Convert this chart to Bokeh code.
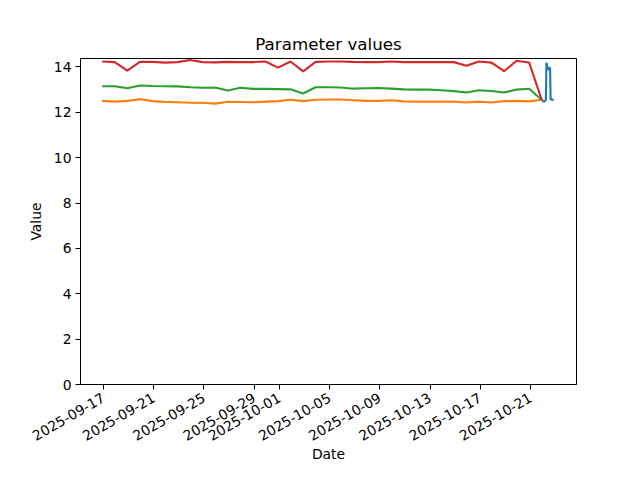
import math
import pandas as pd
from bokeh.plotting import figure
from bokeh.models import Range1d, FixedTicker, DatetimeTickFormatter
from bokeh.embed import file_html
from bokeh.resources import INLINE

# ---- data ----
daily_dates = pd.date_range("2025-09-16 21:30", periods=36, freq="D")
hourly_dates = pd.date_range("2025-10-21 21:30", periods=24, freq="h")

red_values = [14.24, 14.21, 13.84, 14.22, 14.22, 14.19, 14.21, 14.30, 14.21, 14.20,
              14.22, 14.21, 14.21, 14.24, 13.97, 14.24, 13.80, 14.22, 14.24, 14.24,
              14.22, 14.21, 14.21, 14.24, 14.21, 14.21, 14.21, 14.21, 14.21, 14.05,
              14.24, 14.19, 13.81, 14.27, 14.19, 12.55]
green_values = [13.15, 13.15, 13.06, 13.18, 13.16, 13.15, 13.14, 13.10, 13.08, 13.09,
                12.96, 13.08, 13.03, 13.03, 13.02, 13.01, 12.83, 13.10, 13.10, 13.09,
                13.04, 13.06, 13.07, 13.04, 13.01, 13.00, 13.00, 12.97, 12.93, 12.87,
                12.97, 12.94, 12.87, 13.00, 13.04, 12.55]
orange_values = [12.50, 12.47, 12.50, 12.58, 12.49, 12.46, 12.44, 12.42, 12.42, 12.38,
                 12.46, 12.45, 12.44, 12.47, 12.49, 12.55, 12.49, 12.55, 12.56, 12.56,
                 12.53, 12.50, 12.50, 12.53, 12.48, 12.47, 12.47, 12.47, 12.47, 12.43,
                 12.47, 12.43, 12.49, 12.50, 12.48, 12.55]
blue_values = [12.55, 12.53, 12.51, 12.49, 12.47, 12.48, 12.50, 12.52, 12.56, 14.18,
               14.12, 13.90, 13.86, 13.92, 13.95, 13.96, 13.94, 12.57, 12.56, 12.55,
               12.56, 12.55, 12.55, 12.56]

x_tick_labels = ["2025-09-17", "2025-09-21", "2025-09-25", "2025-09-29", "2025-10-01",
                 "2025-10-05", "2025-10-09", "2025-10-13", "2025-10-17", "2025-10-21"]
y_ticks = [0, 2, 4, 6, 8, 10, 12, 14]

title_text = "Parameter values"
x_label = "Date"
y_label = "Value"

# ---- figure ----
FONT = "DejaVu Sans"
p = figure(width=624, height=464, x_axis_type="datetime",
           x_range=Range1d(pd.Timestamp("2025-09-15 04:00"), pd.Timestamp("2025-10-24 16:00")),
           y_range=Range1d(0, 14.37),
           output_backend="svg", toolbar_location=None, title=title_text,
           min_border_left=80, min_border_right=48, min_border_top=58, min_border_bottom=80)

p.background_fill_color = "white"
p.border_fill_color = "white"
p.outline_line_color = "black"
p.outline_line_width = 1
p.xgrid.visible = False
p.ygrid.visible = False

p.title.align = "center"
p.title.text_font = FONT
p.title.text_font_size = "16.7px"
p.title.text_font_style = "normal"
p.title.text_color = "black"
p.title.standoff = 9

tick_ms = [pd.Timestamp(t).value // 10**6 for t in x_tick_labels]
p.xaxis.ticker = FixedTicker(ticks=tick_ms)
fmt = "%Y-%m-%d"
p.xaxis.formatter = DatetimeTickFormatter(microseconds=fmt, milliseconds=fmt, seconds=fmt,
                                          minsec=fmt, minutes=fmt, hourmin=fmt, hours=fmt,
                                          days=fmt, months=fmt, years=fmt)
p.xaxis.major_label_orientation = math.pi / 6
p.yaxis.ticker = FixedTicker(ticks=y_ticks)

p.xaxis.axis_label = x_label
p.yaxis.axis_label = y_label
for ax in (p.xaxis[0], p.yaxis[0]):
    ax.major_tick_in = 0
    ax.major_tick_out = 5
    ax.minor_tick_in = 0
    ax.minor_tick_out = 0
    ax.axis_line_color = "black"
    ax.major_tick_line_color = "black"
    ax.major_label_text_font = FONT
    ax.major_label_text_font_size = "13.9px"
    ax.major_label_text_color = "black"
    ax.major_label_standoff = 4
    ax.axis_label_text_font = FONT
    ax.axis_label_text_font_size = "13.9px"
    ax.axis_label_text_font_style = "normal"
    ax.axis_label_text_color = "black"
    ax.axis_label_standoff = 7
p.xaxis[0].major_label_standoff = 7
p.xaxis[0].axis_label_standoff = -3

p.line(hourly_dates, blue_values, line_color="#1f77b4", line_width=2.1)
p.line(daily_dates, orange_values, line_color="#ff7f0e", line_width=2.1)
p.line(daily_dates, green_values, line_color="#2ca02c", line_width=2.1)
p.line(daily_dates, red_values, line_color="#d62728", line_width=2.1)

open("out.html", "w").write(file_html(p, INLINE))
